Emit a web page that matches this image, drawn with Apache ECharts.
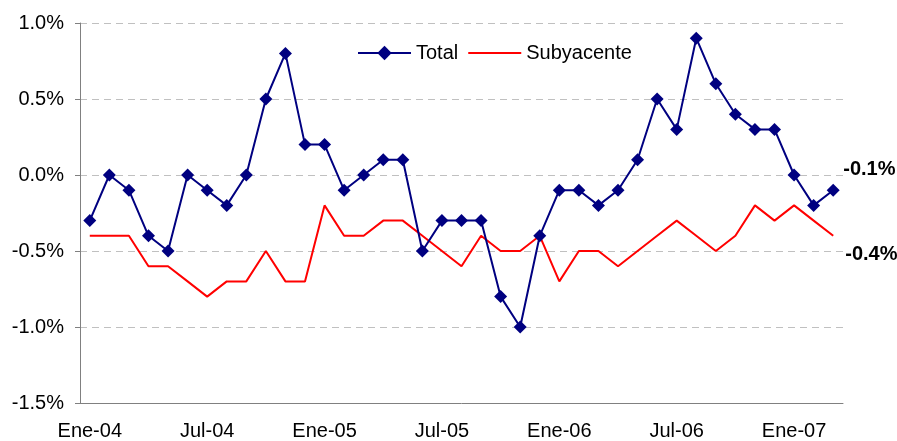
<!DOCTYPE html>
<html>
<head>
<meta charset="utf-8">
<script src="https://cdn.jsdelivr.net/npm/echarts@6/dist/echarts.min.js"></script>
<style>
  html, body { margin: 0; padding: 0; background: #fff; }
  #chart { width: 897px; height: 441px; }
</style>
</head>
<body>
<div id="chart"></div>
<script>
// meses Ene-04 .. Mar-07
var meses = [
  'Ene-04','Feb-04','Mar-04','Abr-04','May-04','Jun-04','Jul-04','Ago-04','Sep-04','Oct-04','Nov-04','Dic-04',
  'Ene-05','Feb-05','Mar-05','Abr-05','May-05','Jun-05','Jul-05','Ago-05','Sep-05','Oct-05','Nov-05','Dic-05',
  'Ene-06','Feb-06','Mar-06','Abr-06','May-06','Jun-06','Jul-06','Ago-06','Sep-06','Oct-06','Nov-06','Dic-06',
  'Ene-07','Feb-07','Mar-07'
];

var total = [
  -0.3, 0.0, -0.1, -0.4, -0.5, 0.0, -0.1, -0.2, 0.0, 0.5, 0.8, 0.2,
  0.2, -0.1, 0.0, 0.1, 0.1, -0.5, -0.3, -0.3, -0.3, -0.8, -1.0, -0.4,
  -0.1, -0.1, -0.2, -0.1, 0.1, 0.5, 0.3, 0.9, 0.6, 0.4, 0.3, 0.3,
  0.0, -0.2, -0.1
];

var subyacente = [
  -0.4, -0.4, -0.4, -0.6, -0.6, -0.7, -0.8, -0.7, -0.7, -0.5, -0.7, -0.7,
  -0.2, -0.4, -0.4, -0.3, -0.3, -0.4, -0.5, -0.6, -0.4, -0.5, -0.5, -0.4,
  -0.7, -0.5, -0.5, -0.6, -0.5, -0.4, -0.3, -0.4, -0.5, -0.4, -0.2, -0.3,
  -0.2, -0.3, -0.4
];

var fuente = '"Liberation Sans", Arial, sans-serif';

function pct(v) {
  return Number(v).toFixed(1) + '%';
}

var chart = echarts.init(document.getElementById('chart'));

var option = {
  animation: false,
  textStyle: { fontFamily: fuente },
  legend: {
    left: 352,
    top: 38,
    itemWidth: 53,
    itemHeight: 18,
    itemGap: 9,
    textStyle: { fontSize: 20, color: '#000', fontFamily: fuente },
    data: [
      'Total',
      { name: 'Subyacente', itemStyle: { opacity: 0 } }
    ]
  },
  grid: {
    left: 80,
    right: 54,
    top: 23,
    bottom: 38
  },
  xAxis: {
    type: 'category',
    boundaryGap: true,
    data: meses,
    axisLine: { onZero: false, lineStyle: { color: '#808080', width: 1 } },
    axisTick: { interval: 5, length: 5, lineStyle: { color: '#808080' } },
    axisLabel: {
      interval: 5,
      margin: 18,
      fontSize: 20,
      color: '#000',
      fontFamily: fuente
    },
    splitLine: { show: false }
  },
  yAxis: {
    type: 'value',
    min: -1.5,
    max: 1.0,
    interval: 0.5,
    axisLine: { show: true, lineStyle: { color: '#808080', width: 1 } },
    axisTick: { show: true, length: 5, lineStyle: { color: '#808080' } },
    axisLabel: {
      margin: 16,
      fontSize: 20,
      color: '#000',
      fontFamily: fuente,
      formatter: pct
    },
    splitLine: {
      show: true,
      lineStyle: { color: '#c0c0c0', type: [7, 5], width: 1 }
    }
  },
  series: [
    {
      name: 'Total',
      type: 'line',
      data: total,
      symbol: 'diamond',
      symbolSize: 13,
      color: '#000080',
      lineStyle: { color: '#000080', width: 2 },
      itemStyle: { color: '#000080' },
      endLabel: {
        show: true,
        offset: [2, -21],
        fontSize: 20,
        fontWeight: 'bold',
        color: '#000',
        fontFamily: fuente,
        formatter: function (p) { return pct(p.value); }
      },
      z: 3
    },
    {
      name: 'Subyacente',
      type: 'line',
      data: subyacente,
      symbol: 'none',
      color: '#ff0000',
      lineStyle: { color: '#ff0000', width: 2 },
      endLabel: {
        show: true,
        offset: [4, 19],
        fontSize: 20,
        fontWeight: 'bold',
        color: '#000',
        fontFamily: fuente,
        formatter: function (p) { return pct(p.value); }
      },
      z: 2
    }
  ]
};

chart.setOption(option);
</script>
</body>
</html>
